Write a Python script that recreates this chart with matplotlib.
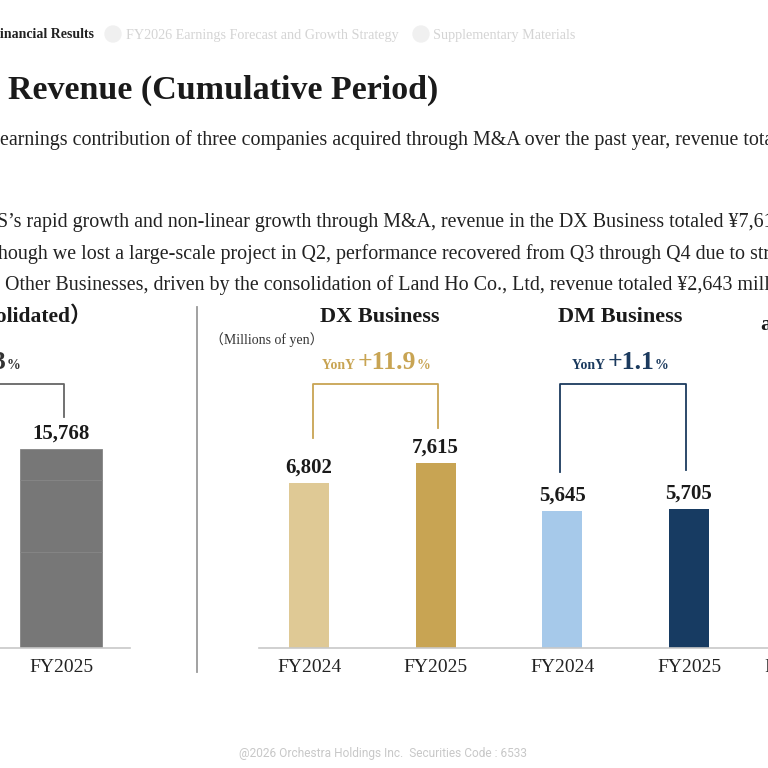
import matplotlib
matplotlib.use('Agg')
import matplotlib.pyplot as plt
from matplotlib.lines import Line2D

plt.rcParams['font.family'] = ['Liberation Serif', 'Noto Sans CJK JP']

# data
cons_years = ['FY2025']
cons_total = [15768]
cons_parts = [7615, 5705]          # DX, DM stacked inside the consolidated bar
seg_labels = ['FY2024', 'FY2025', 'FY2024', 'FY2025']
seg_values = [6802, 7615, 5645, 5705]
seg_colors = ['#dfc995', '#c8a453', '#a6c9ea', '#173b62']
dx_growth = '+11.9'
dm_growth = '+1.1'

W = H = 768
fig = plt.figure(figsize=(7.68, 7.68), dpi=100)


def fx(x):
    return x / W


def fy(y):
    return 1 - y / H


# header nav
fig.text(fx(0), fy(35), 'inancial Results', fontsize=10, fontweight='bold', color='#222222', va='center')
for cx in [113, 421]:
    fig.patches.append(plt.Circle((fx(cx), fy(34)), 8 / W, transform=fig.transFigure, color='#f0f0f0'))
fig.text(fx(126), fy(35), 'FY2026 Earnings Forecast and Growth Strategy', fontsize=10.2, color='#d4d4d4', va='center')
fig.text(fx(433), fy(35), 'Supplementary Materials', fontsize=10.2, color='#d4d4d4', va='center')

# title
fig.text(fx(8), fy(90), 'Revenue (Cumulative Period)', fontsize=24.5, fontweight='bold', color='#1a1a1a', va='center')

# body text
body = [
    (0, 140, 'earnings contribution of three companies acquired through M&A over the past year, revenue totaled ¥15,768 million'),
    (-3, 222, 'S\u2019s rapid growth and non-linear growth through M&A, revenue in the DX Business totaled ¥7,615 million'),
    (-2, 254, 'hough we lost a large-scale project in Q2, performance recovered from Q3 through Q4 due to strong demand'),
    (5, 285, 'Other Businesses, driven by the consolidation of Land Ho Co., Ltd, revenue totaled ¥2,643 million'),
]
for x, y, s in body:
    fig.text(fx(x), fy(y), s, fontsize=14.4, color='#222222', va='center')

# separator
fig.add_artist(Line2D([fx(197), fx(197)], [fy(307), fy(672)], color='#9a9a9a', lw=1.3))

# panel titles
fig.text(fx(92), fy(317), 'Revenue（Consolidated）', fontsize=15.5, fontweight='bold', color='#1a1a1a', ha='right', va='center')
fig.text(fx(380), fy(317), 'DX Business', fontsize=16, fontweight='bold', color='#1a1a1a', ha='center', va='center')
fig.text(fx(620), fy(317), 'DM Business', fontsize=16, fontweight='bold', color='#1a1a1a', ha='center', va='center')
fig.text(fx(760), fy(325), 'a', fontsize=16, fontweight='bold', color='#1a1a1a', va='center')
fig.text(fx(210), fy(340), '（Millions of yen）', fontsize=10, color='#333333', va='center')

# consolidated axes
cscale = 0.01262
ax1 = fig.add_axes([0, fy(648), fx(130), 348 / H])
ax1.set_ylim(0, 348 / cscale)
ax1.set_xlim(-0.38, 0.43)
bottom = 0
for v in cons_parts + [cons_total[0] - sum(cons_parts)]:
    ax1.bar(0, v, bottom=bottom, width=0.517, color='#777777', edgecolor='#858585', linewidth=0.6)
    bottom += v
ax1.annotate(f'{cons_total[0]:,}', (0, cons_total[0]), xytext=(0, 4), textcoords='offset points',
             ha='center', va='bottom', fontsize=15, fontweight='bold', color='#1a1a1a')
br_top = 264 / cscale
ax1.plot([-1, 0.016, 0.016], [br_top, br_top, cons_total[0] + 2500], color='#666666', lw=1.3, clip_on=False)

# segment axes
sscale = 0.0243
ax2 = fig.add_axes([fx(259), fy(648), 509 / W, 348 / H])
ax2.set_ylim(0, 348 / sscale)
ax2.set_xlim(-0.395, 3.624)
pos = list(range(len(seg_values)))
ax2.bar(pos, seg_values, width=0.316, color=seg_colors)
for p, v in zip(pos, seg_values):
    ax2.annotate(f'{v:,}', (p, v), xytext=(0, 4), textcoords='offset points',
                 ha='center', va='bottom', fontsize=15, fontweight='bold', color='#1a1a1a')
br_top = 264 / sscale
ax2.plot([0.03, 0.03, 1.02, 1.02], [seg_values[0] + 1850, br_top, br_top, seg_values[1] + 1450],
         color='#c8a453', lw=1.3, clip_on=False)
ax2.plot([1.98, 1.98, 2.98, 2.98], [seg_values[2] + 1600, br_top, br_top, seg_values[3] + 1600],
         color='#1b3a5e', lw=1.3, clip_on=False)

for ax, ticks, labels in [(ax1, [0], cons_years), (ax2, pos, seg_labels)]:
    for s in ['top', 'left', 'right']:
        ax.spines[s].set_visible(False)
    ax.spines['bottom'].set_color('#c8c8c8')
    ax.spines['bottom'].set_linewidth(1.2)
    ax.set_yticks([])
    ax.set_xticks(ticks)
    ax.set_xticklabels(labels, fontsize=14, color='#222222')
    ax.tick_params(axis='x', length=0, pad=8)
    ax.patch.set_alpha(0)

fig.text(fx(764), fy(667), 'FY2024', fontsize=14, color='#222222', va='center')

# growth labels made of pieces in different sizes
renderer = fig.canvas.get_renderer()


def rich(xc, y, parts, ha='center'):
    texts = [fig.text(0, fy(y), s, fontsize=fs, fontweight='bold', color=c, va='baseline') for s, fs, c in parts]
    widths = [t.get_window_extent(renderer).width for t in texts]
    total = sum(widths)
    x = xc - total / 2 if ha == 'center' else xc - total
    for t, w in zip(texts, widths):
        t.set_x(fx(x))
        x += w


gold = '#c8a453'
navy = '#1b3a5e'
rich(376, 369, [('YonY ', 10, gold), (dx_growth, 18.5, gold), ('%', 10, gold)])
rich(620, 369, [('YonY ', 10, navy), (dm_growth, 18.5, navy), ('%', 10, navy)])
rich(20, 369, [('3', 18.5, '#333333'), ('%', 10, '#333333')], ha='right')

fig.text(fx(383), fy(753), '@2026 Orchestra Holdings Inc.  Securities Code : 6533', fontsize=8.6,
         family='Roboto', color='#c8c8c8', ha='center', va='center')

fig.savefig('out.png', dpi=100, facecolor='white')
